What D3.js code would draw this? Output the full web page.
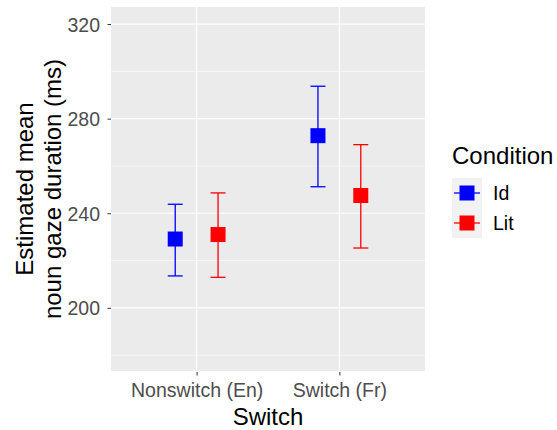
<!DOCTYPE html>
<html>
<head>
<meta charset="utf-8">
<script src="https://cdn.jsdelivr.net/npm/d3@7"></script>
<style>
  body { margin: 0; background: #fff; }
  svg { font-family: "Liberation Sans", Arial, sans-serif; }
</style>
</head>
<body>
<svg id="chart"></svg>
<script>
// data
const switches = ["Nonswitch (En)", "Switch (Fr)"];
const conditions = ["Id", "Lit"];
const colors = ["#0000FF", "#FF0000"];
const means = [[229.1, 231.0], [272.8, 247.5]];   // [switch][condition]
const lower = [[213.5, 212.9], [251.2, 225.3]];
const upper = [[243.8, 248.6], [293.7, 269.0]];
const yTicks = [200, 240, 280, 320];
const yMinor = [180, 220, 260, 300];

const width = 557, height = 430;
const panel = { left: 111, right: 425, top: 7, bottom: 371 };

const svg = d3.select("#chart").attr("width", width).attr("height", height);

// discrete x like ggplot: 0.6 expansion each side
const x = d3.scaleLinear().domain([0.4, 2.6]).range([panel.left, panel.right]);
const y = d3.scaleLinear().domain([173.3, 327.2]).range([panel.bottom, panel.top]);
// position_dodge(width = 0.3)
const dodge = d3.scaleBand().domain(conditions).range([-0.3, 0.3]);
const offset = c => dodge(c) + dodge.bandwidth() / 2;

// panel background
svg.append("rect")
  .attr("x", panel.left).attr("y", panel.top)
  .attr("width", panel.right - panel.left).attr("height", panel.bottom - panel.top)
  .attr("fill", "#EBEBEB");

// grid
const grid = svg.append("g").attr("stroke", "#fff");
grid.selectAll("line.minor").data(yMinor).enter().append("line")
  .attr("x1", panel.left).attr("x2", panel.right)
  .attr("y1", d => y(d)).attr("y2", d => y(d))
  .attr("stroke-width", 0.6);
grid.selectAll("line.major").data(yTicks).enter().append("line")
  .attr("x1", panel.left).attr("x2", panel.right)
  .attr("y1", d => y(d)).attr("y2", d => y(d))
  .attr("stroke-width", 1.2);
grid.selectAll("line.vx").data(switches).enter().append("line")
  .attr("x1", (d, i) => x(i + 1)).attr("x2", (d, i) => x(i + 1))
  .attr("y1", panel.top).attr("y2", panel.bottom)
  .attr("stroke-width", 1.2);

// axes
const yAxis = d3.axisLeft(y).tickValues(yTicks).tickSize(3.5).tickPadding(3);
const gy = svg.append("g").attr("transform", `translate(${panel.left - 3},0)`).call(yAxis);
gy.select(".domain").remove();
gy.selectAll(".tick line").attr("stroke", "#333").attr("transform", "translate(3,0)");
gy.selectAll(".tick text").attr("fill", "#4D4D4D").attr("font-size", 19.5).attr("font-family", null)
  .attr("x", -8).attr("dy", "0.36em");

const xAxis = d3.axisBottom(x).tickValues([1, 2]).tickFormat(d => switches[d - 1]).tickSize(3.5).tickPadding(3);
const gx = svg.append("g").attr("transform", `translate(0,${panel.bottom + 1})`).call(xAxis);
gx.select(".domain").remove();
gx.selectAll(".tick line").attr("stroke", "#333");
gx.selectAll(".tick text").attr("fill", "#4D4D4D").attr("font-size", 19.5).attr("font-family", null)
  .attr("y", 25).attr("dy", 0);

// axis titles
svg.append("text")
  .attr("x", (panel.left + panel.right) / 2).attr("y", 425)
  .attr("text-anchor", "middle").attr("font-size", 24).attr("fill", "#000")
  .text("Switch");

const yt = svg.append("text")
  .attr("transform", `translate(33,${(panel.top + panel.bottom) / 2}) rotate(-90)`)
  .attr("text-anchor", "middle").attr("font-size", 24).attr("fill", "#000");
yt.append("tspan").attr("x", 0).attr("y", 0).text("Estimated mean");
yt.append("tspan").attr("x", 0).attr("y", 0).attr("dy", 28).text("noun gaze duration (ms)");

// points + error bars
const rows = [];
switches.forEach((s, i) => conditions.forEach((c, j) => {
  rows.push({ s: i + 1, c, col: colors[j], m: means[i][j], lo: lower[i][j], hi: upper[i][j] });
}));

const marks = svg.append("g").selectAll("g").data(rows).enter().append("g");
const cap = 7.5;
marks.append("line")
  .attr("x1", d => x(d.s + offset(d.c))).attr("x2", d => x(d.s + offset(d.c)))
  .attr("y1", d => y(d.lo)).attr("y2", d => y(d.hi))
  .attr("stroke", d => d.col).attr("stroke-width", 1.3);
marks.append("line")
  .attr("x1", d => x(d.s + offset(d.c)) - cap).attr("x2", d => x(d.s + offset(d.c)) + cap)
  .attr("y1", d => y(d.hi)).attr("y2", d => y(d.hi))
  .attr("stroke", d => d.col).attr("stroke-width", 1.3);
marks.append("line")
  .attr("x1", d => x(d.s + offset(d.c)) - cap).attr("x2", d => x(d.s + offset(d.c)) + cap)
  .attr("y1", d => y(d.lo)).attr("y2", d => y(d.lo))
  .attr("stroke", d => d.col).attr("stroke-width", 1.3);
marks.append("rect")
  .attr("x", d => x(d.s + offset(d.c)) - 7.5).attr("y", d => y(d.m) - 7.5)
  .attr("width", 15).attr("height", 15)
  .attr("fill", d => d.col);

// legend
const lg = svg.append("g").attr("transform", "translate(452,0)");
lg.append("text").attr("x", 0).attr("y", 164).attr("font-size", 24).attr("fill", "#000").text("Condition");
const keys = lg.selectAll("g.key").data(conditions).enter().append("g")
  .attr("transform", (d, i) => `translate(0,${178 + i * 30})`);
keys.append("rect").attr("width", 30).attr("height", 30).attr("fill", "#F2F2F2");
keys.append("line").attr("x1", 2).attr("x2", 28).attr("y1", 15).attr("y2", 15)
  .attr("stroke", (d, i) => colors[i]).attr("stroke-width", 1.3);
keys.append("rect").attr("x", 7.5).attr("y", 7.5).attr("width", 15).attr("height", 15)
  .attr("fill", (d, i) => colors[i]);
keys.append("text").attr("x", 41).attr("y", 15).attr("dy", "0.36em")
  .attr("font-size", 19.5).attr("fill", "#000").text(d => d);
</script>
</body>
</html>
